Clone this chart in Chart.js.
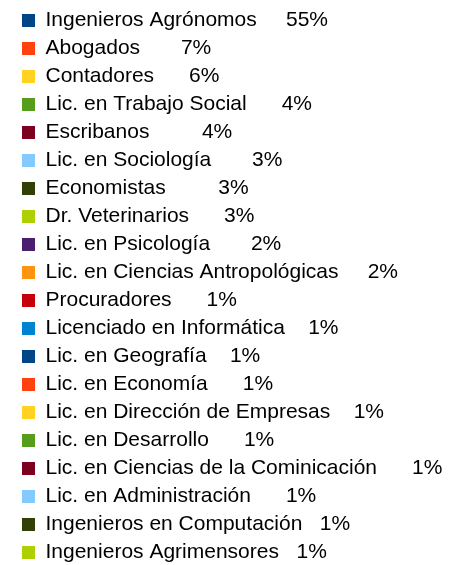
<!DOCTYPE html>
<html>
<head>
<meta charset="utf-8">
<script src="https://cdn.jsdelivr.net/npm/chart.js@4/dist/chart.umd.min.js"></script>
<style>
  html, body { margin: 0; padding: 0; background: #fff; overflow: hidden; }
  #wrap { width: 463px; height: 590px; position: relative; margin-top: 3px; }
</style>
</head>
<body>
<div id="wrap"><canvas id="chart"></canvas></div>
<script>
const professions = [
  'Ingenieros Agrónomos', 'Abogados', 'Contadores', 'Lic. en Trabajo Social',
  'Escribanos', 'Lic. en Sociología', 'Economistas', 'Dr. Veterinarios',
  'Lic. en Psicología', 'Lic. en Ciencias Antropológicas', 'Procuradores',
  'Licenciado en Informática', 'Lic. en Geografía', 'Lic. en Economía',
  'Lic. en Dirección de Empresas', 'Lic. en Desarrollo',
  'Lic. en Ciencias de la Cominicación', 'Lic. en Administración',
  'Ingenieros en Computación', 'Ingenieros Agrimensores'
];
const shares = [55, 7, 6, 4, 4, 3, 3, 3, 2, 2, 1, 1, 1, 1, 1, 1, 1, 1, 1, 1];

// spaces between name and percentage, as in the original labels
const gaps = [5, 7, 6, 6, 9, 7, 9, 6, 7, 5, 6, 4, 4, 6, 4, 6, 6, 6, 3, 3];

const palette = ['#004586', '#ff420e', '#ffd320', '#579d1c', '#7e0021', '#83caff',
  '#314004', '#aecf00', '#4b1f6f', '#ff950e', '#c5000b', '#0084d1'];
const colors = shares.map((s, i) => palette[i % palette.length]);

Chart.defaults.font.family = "'Liberation Sans', Arial, sans-serif";
Chart.defaults.color = '#000';

const ctx = document.getElementById('chart').getContext('2d');
new Chart(ctx, {
  type: 'pie',
  data: {
    labels: professions,
    datasets: [{
      data: shares,
      backgroundColor: colors,
      borderWidth: 0
    }]
  },
  options: {
    responsive: true,
    maintainAspectRatio: false,
    animation: false,
    radius: 0,
    layout: { padding: { left: 15 } },
    plugins: {
      tooltip: { enabled: false },
      legend: {
        position: 'chartArea',
        align: 'start',
        labels: {
          boxWidth: 13,
          boxHeight: 13,
          padding: 7,
          color: '#000',
          font: { size: 21 },
          generateLabels(chart) {
            const items = Chart.overrides.pie.plugins.legend.labels.generateLabels(chart);
            items.forEach((item, i) => {
              item.text = professions[i] + ' '.repeat(gaps[i]) + shares[i] + '%';
              item.lineWidth = 0;
            });
            return items;
          }
        }
      }
    }
  }
});
</script>
</body>
</html>
